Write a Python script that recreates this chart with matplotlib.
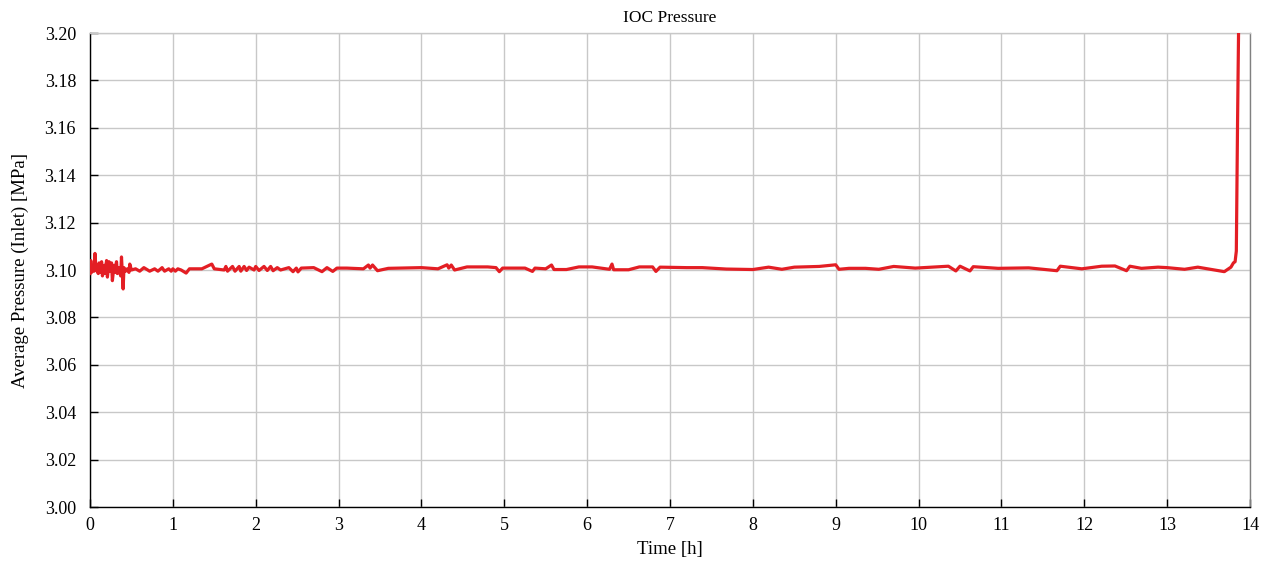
import matplotlib
matplotlib.use("Agg")
import matplotlib.pyplot as plt

plt.rcParams['font.family'] = ['Liberation Serif', 'DejaVu Serif']

time_h = [0.00, 0.01, 0.02, 0.03, 0.05, 0.06, 0.07, 0.08, 0.10, 0.11, 0.12, 0.14, 0.15, 0.17, 0.18,
          0.20, 0.21, 0.23, 0.24, 0.26, 0.27, 0.29, 0.30, 0.32, 0.33, 0.35, 0.37, 0.38, 0.40, 0.41,
          0.43, 0.45, 0.47, 0.48, 0.50, 0.55, 0.60, 0.65, 0.72, 0.78, 0.82, 0.87, 0.90, 0.95, 0.98,
          1.00, 1.03, 1.06, 1.10, 1.16, 1.20, 1.35, 1.47, 1.50, 1.62, 1.64, 1.66, 1.72, 1.75, 1.80,
          1.82, 1.86, 1.89, 1.92, 1.98, 2.00, 2.04, 2.10, 2.14, 2.18, 2.21, 2.26, 2.30, 2.40, 2.45,
          2.49, 2.51, 2.55, 2.70, 2.80, 2.86, 2.93, 2.98, 3.10, 3.30, 3.36, 3.38, 3.41, 3.47, 3.60,
          4.00, 4.20, 4.31, 4.33, 4.36, 4.40, 4.55, 4.80, 4.90, 4.94, 4.98, 5.25, 5.34, 5.37, 5.50,
          5.57, 5.60, 5.75, 5.90, 6.06, 6.27, 6.30, 6.32, 6.50, 6.63, 6.79, 6.83, 6.88, 7.20, 7.39,
          7.68, 8.00, 8.19, 8.35, 8.50, 8.80, 9.00, 9.04, 9.16, 9.36, 9.52, 9.70, 9.96, 10.36, 10.45,
          10.50, 10.62, 10.66, 10.96, 11.33, 11.67, 11.71, 11.97, 12.21, 12.37, 12.51, 12.55, 12.69, 12.89, 13.00,
          13.21, 13.37, 13.69, 13.77, 13.80, 13.82, 13.835, 13.85, 13.865, 13.88]

pressure_mpa = [3.0985, 3.1040, 3.0990, 3.1010, 3.0995, 3.1070, 3.1020, 3.1000, 3.0985, 3.1030, 3.0990, 3.1035, 3.0975, 3.1020, 3.0985,
                3.1040, 3.0970, 3.1035, 3.0995, 3.1030, 3.0955, 3.1020, 3.0990, 3.1035, 3.0985, 3.1010, 3.0975, 3.1055, 3.0920, 3.1010,
                3.0995, 3.1005, 3.0990, 3.1025, 3.1000, 3.1005, 3.0995, 3.1010, 3.0995, 3.1005, 3.0995, 3.1010, 3.0995, 3.1005, 3.0995,
                3.1005, 3.0995, 3.1005, 3.1000, 3.0987, 3.1005, 3.1005, 3.1025, 3.1005, 3.1000, 3.1015, 3.0995, 3.1015, 3.0995, 3.1015,
                3.0995, 3.1015, 3.0998, 3.1012, 3.1000, 3.1015, 3.0998, 3.1015, 3.0998, 3.1015, 3.0997, 3.1010, 3.1000, 3.1010, 3.0993,
                3.1008, 3.0992, 3.1008, 3.1010, 3.0993, 3.1010, 3.0994, 3.1008, 3.1008, 3.1005, 3.1021, 3.1008, 3.1021, 3.0997, 3.1007,
                3.1010, 3.1005, 3.1022, 3.1008, 3.1021, 3.1000, 3.1013, 3.1013, 3.1010, 3.0993, 3.1008, 3.1008, 3.0994, 3.1008, 3.1005,
                3.1021, 3.1002, 3.1002, 3.1013, 3.1013, 3.1003, 3.1025, 3.1001, 3.1001, 3.1013, 3.1013, 3.0994, 3.1012, 3.1010, 3.1010,
                3.1004, 3.1002, 3.1012, 3.1003, 3.1012, 3.1015, 3.1022, 3.1003, 3.1007, 3.1007, 3.1003, 3.1015, 3.1008, 3.1016, 3.0996,
                3.1016, 3.0996, 3.1014, 3.1007, 3.1009, 3.0997, 3.1016, 3.1005, 3.1016, 3.1017, 3.0997, 3.1016, 3.1007, 3.1012, 3.1010,
                3.1003, 3.1012, 3.0993, 3.1012, 3.1030, 3.1035, 3.1080, 3.1630, 3.2100, 3.2600]

x_ticks = list(range(0, 15))
y_ticks = [3.00, 3.02, 3.04, 3.06, 3.08, 3.10, 3.12, 3.14, 3.16, 3.18, 3.20]

fig = plt.figure(figsize=(12.7, 5.62), dpi=100)
ax = fig.add_axes([90/1270, 1-507/562, (1250-90)/1270, (507-33)/562])

ax.plot(time_h, pressure_mpa, color='#e31e24', lw=2.3, solid_joinstyle='round', zorder=3)

ax.set_xlim(0, 14)
ax.set_ylim(3.00, 3.20)
ax.set_xticks(x_ticks)
ax.set_yticks(y_ticks)
ax.set_yticklabels([f"{v:.2f}" for v in y_ticks])
ax.grid(True, color='#c8c8c8', lw=1.0)
ax.set_axisbelow(True)
ax.tick_params(direction='in', length=6, width=1, labelsize=13, colors='black', pad=7)
ax.tick_params(axis='y', pad=10)
ax.spines['left'].set_color('black')
ax.spines['bottom'].set_color('black')
ax.spines['right'].set_color('#808080')
ax.spines['top'].set_color('#c8c8c8')
for s in ax.spines.values():
    s.set_linewidth(1.0)

ax.set_title('IOC Pressure', fontsize=12.5, pad=8)
ax.set_xlabel('Time [h]', fontsize=13.5, labelpad=5)
ax.set_ylabel('Average Pressure (Inlet) [MPa]', fontsize=13.5, labelpad=11)

fig.savefig('out.png', dpi=100)
